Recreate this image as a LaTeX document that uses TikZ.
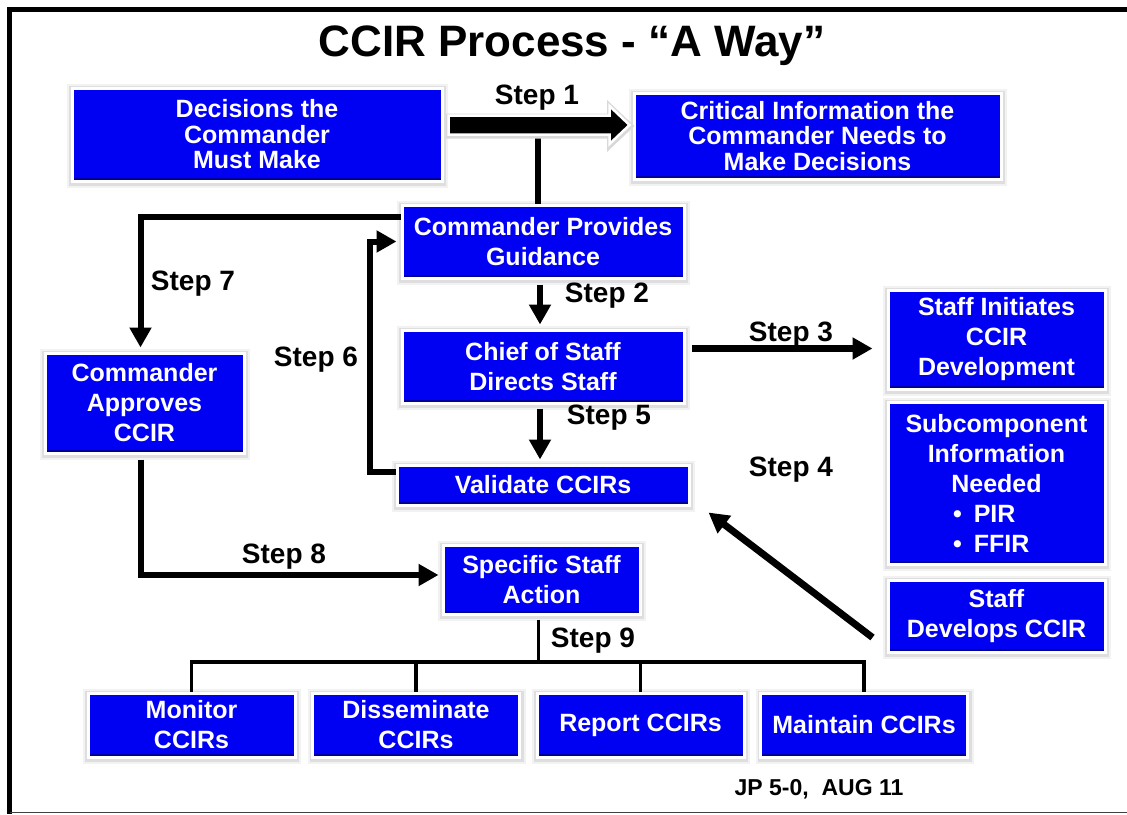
\documentclass[tikz,border=0pt]{standalone}
\usepackage{fontspec}
\setmainfont{Liberation Sans}
\usetikzlibrary{arrows.meta,calc}
\definecolor{boxblue}{RGB}{0,0,242}
\definecolor{boxedge}{RGB}{0,0,150}
\tikzset{
  box/.style={rectangle, fill=boxblue, draw=white, line width=3pt, text=white,
    font=\bfseries\fontsize{25}{30}\selectfont, align=center, inner sep=0pt,
    preaction={draw=black!5, line width=11pt, transform canvas={xshift=0.5pt,yshift=-1pt}},
    preaction={draw=black!13, line width=7pt, transform canvas={xshift=0.5pt,yshift=-1pt}},
    path picture={\fill[boxedge] (path picture bounding box.south west) rectangle ($(path picture bounding box.south east)+(0,-3)$);}},
  tight/.style={font=\bfseries\fontsize{25}{25.5}\selectfont},
  sz/.style 2 args={minimum width=#1pt, minimum height=#2pt},
  lab/.style={font=\bfseries\fontsize{28}{30}\selectfont, inner sep=0pt},
  conn/.style={line width=6pt, line join=miter},
  arr/.style={conn, -{Triangle[length=20pt,width=21pt]}},
  thin/.style={line width=3.5pt, line join=miter}
}
\begin{document}
\begin{tikzpicture}[x=1pt,y=-1pt]
\useasboundingbox (0,0) rectangle (1127,814);

% frame
\draw[line width=4.5pt] (1127,9.5) -- (9.5,9.5) -- (9.5,814);
\draw[line width=1.5pt, black!75] (9.5,812.5) -- (1127,812.5);

% title
\node[font=\bfseries\fontsize{44}{48}\selectfont, inner sep=0pt] (title) at (572,46) {CCIR Process - “A Way”};

% boxes
\node[box, tight, sz={370}{93}] (dec)   at (257,134.5) {Decisions the\\Commander\\Must Make};
\node[box, tight, sz={367}{86}] (crit)  at (817.5,136) {Critical Information the\\Commander Needs to\\Make Decisions};
\node[box, sz={282}{73}]  (prov)  at (543,241.5) {Commander Provides\\Guidance};
\node[box, sz={199}{100}] (appr)  at (144.5,403) {Commander\\Approves\\CCIR};
\node[box, sz={282}{73}]  (chief) at (543,366.5) {Chief of Staff\\Directs Staff};
\node[box, sz={217}{99}]  (init)  at (996.5,339.5) {Staff Initiates\\CCIR\\Development};
\node[box, sz={217}{162}] (sub)   at (996.5,483) {Subcomponent\\Information\\Needed\\
  \makebox[87pt][l]{\textbullet\hspace{12pt}PIR}\\\makebox[87pt][l]{\textbullet\hspace{12pt}FFIR}};
\node[box, sz={217}{72}]  (dev)   at (996.5,616) {Staff\\Develops CCIR};
\node[box, sz={292}{40}]  (valid) at (543,485) {Validate CCIRs};
\node[box, sz={197}{69}]  (spec)  at (541.5,579.5) {Specific Staff\\Action};
\node[box, sz={207}{64}]  (mon)   at (191.5,725) {Monitor\\CCIRs};
\node[box, sz={207}{64}]  (dis)   at (416,725) {Disseminate\\CCIRs};
\node[box, sz={207}{64}]  (rep)   at (640.5,725) {Report CCIRs};
\node[box, sz={207}{64}]  (mai)   at (864,725) {Maintain CCIRs};

% step labels
\node[lab] (l1) at (537,98)  {Step 1};
\node[lab] (l2) at (607,296) {Step 2};
\node[lab] (l3) at (791,335) {Step 3};
\node[lab] (l4) at (791,470) {Step 4};
\node[lab] (l5) at (609,418) {Step 5};
\node[lab] (l6) at (316,360) {Step 6};
\node[lab] (l7) at (193,284) {Step 7};
\node[lab] (l8) at (284,557) {Step 8};
\node[lab] (l9) at (593,641) {Step 9};

% step 1: stem down to the guidance box, then the wide arrow
\draw[conn] ($(prov.north)+(-5,-68)$) -- ($(prov.north)+(-5,0)$);
\coordinate (s1) at (0,125);
\coordinate (a0) at ($(dec.east |- s1)+(5,0)$);
\coordinate (tip) at ($(crit.west |- s1)+(-3,0)$);
\filldraw[fill=black, draw=white, line width=2.5pt, line join=miter,
  preaction={draw=black!15, line width=6pt, transform canvas={xshift=0.5pt,yshift=-1pt}}]
  ($(a0)+(0,-9.5)$) -- ($(tip)+(-20,-9.5)$) -- ($(tip)+(-20,-19)$) -- (tip)
  -- ($(tip)+(-20,19)$) -- ($(tip)+(-20,9.5)$) -- ($(a0)+(0,9.5)$) -- cycle;

% steps 2 and 5
\draw[arr] ($(prov.south)+(-3,5)$) -- ($(chief.north)+(-3,-4)$);
\draw[arr] ($(chief.south)+(-3,4)$) -- ($(valid.north)+(-3,-4)$);

% step 3
\draw[arr, line width=7pt] ($(chief.north east)+(6,20)$) -- ($(init.west |- chief.north)+(-14,20)$);

% step 4
\draw[arr, line width=7pt] ($(dev.south west)+(-14,-16)$) -- ($(valid.south east)+(18,6)$);

% step 6
\draw[arr] ($(valid.north west)+(0,8)$) -| ($(prov.west)+(-31,0)$) -- ($(prov.west)+(-4,0)$);

% step 7
\draw[arr] ($(prov.north west)+(0,13)$) -| ($(appr.north)+(-4,-4)$);

% step 8
\draw[arr] ($(appr.south)+(-4,5)$) |- ($(spec.west)+(-3,-4.5)$);

% step 9
\coordinate (bar) at (0,662);
\draw[thin] ($(spec.south)+(-3,4)$) -- ($(spec.south |- bar)+(-3,0)$);
\draw[thin] (mon.north) |- (mai.north |- bar) -- (mai.north);
\draw[thin] (dis.north |- bar) -- (dis.north);
\draw[thin] (rep.north |- bar) -- (rep.north);

% source note
\node[font=\bfseries\fontsize{23}{25}\selectfont, inner sep=0pt] (src) at (819,789) {JP 5-0,\ \ AUG 11};
\end{tikzpicture}
\end{document}
